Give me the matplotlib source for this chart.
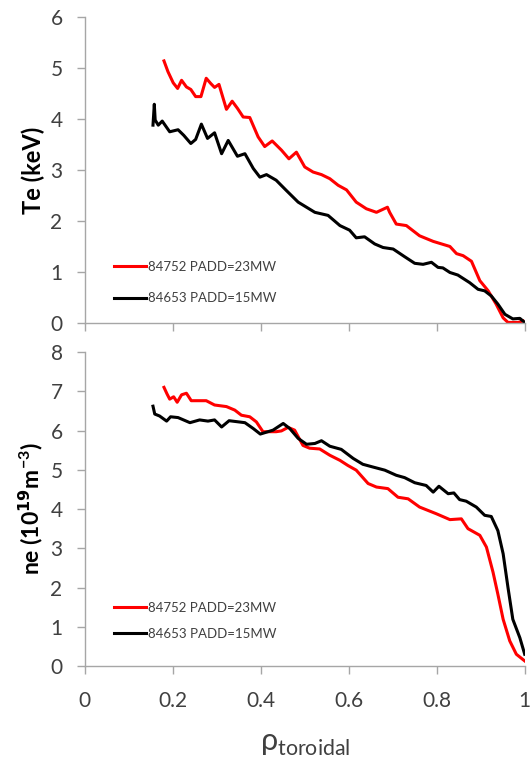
import matplotlib
matplotlib.use("Agg")
import matplotlib.pyplot as plt

plt.rcParams['font.family'] = ['Lato', 'DejaVu Sans']

# ---- Te profiles (keV) vs rho_toroidal
te_red_rho = [0.180, 0.189, 0.201, 0.211, 0.220, 0.231, 0.241, 0.252, 0.264, 0.276, 0.286,
              0.295, 0.305, 0.322, 0.335, 0.347, 0.360, 0.375, 0.394, 0.409, 0.426, 0.447,
              0.464, 0.481, 0.500, 0.519, 0.538, 0.557, 0.576, 0.595, 0.617, 0.640, 0.663,
              0.688, 0.693, 0.708, 0.731, 0.761, 0.792, 0.830, 0.845, 0.860, 0.879, 0.898,
              0.917, 0.935, 0.951, 0.962, 0.985, 0.996]
te_red = [5.14, 4.93, 4.71, 4.60, 4.76, 4.63, 4.58, 4.44, 4.44, 4.80, 4.70,
          4.62, 4.68, 4.19, 4.35, 4.21, 4.04, 4.03, 3.65, 3.46, 3.57, 3.39,
          3.22, 3.35, 3.06, 2.96, 2.91, 2.83, 2.70, 2.61, 2.37, 2.24, 2.17,
          2.27, 2.17, 1.94, 1.91, 1.71, 1.60, 1.50, 1.36, 1.32, 1.21, 0.83,
          0.63, 0.37, 0.10, 0.01, 0.01, 0.04]

te_blk_rho = [0.155, 0.158, 0.160, 0.167, 0.176, 0.193, 0.212, 0.225, 0.241, 0.252, 0.265,
              0.279, 0.295, 0.311, 0.326, 0.347, 0.364, 0.383, 0.398, 0.413, 0.435, 0.458,
              0.485, 0.523, 0.553, 0.580, 0.602, 0.617, 0.636, 0.659, 0.678, 0.701, 0.727,
              0.750, 0.769, 0.788, 0.803, 0.814, 0.830, 0.848, 0.875, 0.894, 0.909, 0.924,
              0.939, 0.955, 0.973, 0.989, 1.000]
te_blk = [3.88, 4.29, 3.98, 3.88, 3.96, 3.75, 3.79, 3.68, 3.52, 3.60, 3.90,
          3.62, 3.73, 3.32, 3.58, 3.27, 3.32, 3.03, 2.86, 2.91, 2.80, 2.60,
          2.37, 2.17, 2.11, 1.91, 1.82, 1.67, 1.69, 1.55, 1.48, 1.45, 1.30,
          1.17, 1.15, 1.19, 1.09, 1.08, 0.99, 0.94, 0.79, 0.66, 0.63, 0.53,
          0.37, 0.17, 0.08, 0.09, 0.01]

# ---- ne profiles (1e19 m^-3)
ne_red_rho = [0.180, 0.187, 0.193, 0.202, 0.210, 0.220, 0.231, 0.242, 0.276, 0.295, 0.322,
              0.341, 0.356, 0.375, 0.390, 0.405, 0.435, 0.447, 0.462, 0.477, 0.496, 0.511,
              0.534, 0.557, 0.580, 0.598, 0.617, 0.644, 0.663, 0.689, 0.712, 0.735, 0.761,
              0.799, 0.830, 0.856, 0.871, 0.898, 0.913, 0.928, 0.939, 0.951, 0.966, 0.981,
              1.000]
ne_red = [7.10, 6.93, 6.80, 6.86, 6.72, 6.91, 6.95, 6.76, 6.76, 6.65, 6.61,
          6.52, 6.39, 6.35, 6.22, 5.97, 5.97, 5.99, 6.08, 6.01, 5.62, 5.55,
          5.53, 5.37, 5.24, 5.11, 4.99, 4.65, 4.56, 4.52, 4.30, 4.26, 4.05,
          3.88, 3.73, 3.75, 3.50, 3.33, 3.03, 2.39, 1.83, 1.19, 0.64, 0.30,
          0.13]

ne_blk_rho = [0.155, 0.159, 0.170, 0.186, 0.195, 0.212, 0.239, 0.261, 0.280, 0.295, 0.311,
              0.328, 0.364, 0.383, 0.399, 0.428, 0.451, 0.466, 0.485, 0.504, 0.523, 0.538,
              0.557, 0.583, 0.610, 0.632, 0.655, 0.682, 0.708, 0.727, 0.750, 0.776, 0.792,
              0.805, 0.826, 0.839, 0.852, 0.867, 0.890, 0.909, 0.924, 0.939, 0.951, 0.962,
              0.973, 0.989, 1.000]
ne_blk = [6.62, 6.42, 6.37, 6.24, 6.35, 6.33, 6.20, 6.27, 6.24, 6.27, 6.09,
          6.25, 6.20, 6.05, 5.91, 6.01, 6.18, 6.05, 5.80, 5.65, 5.67, 5.74,
          5.60, 5.52, 5.29, 5.14, 5.07, 4.99, 4.86, 4.80, 4.67, 4.60, 4.43,
          4.58, 4.39, 4.41, 4.24, 4.20, 4.05, 3.84, 3.81, 3.45, 2.86, 2.00,
          1.19, 0.72, 0.30]

lbl_red = '84752 PADD=23MW'
lbl_blk = '84653 PADD=15MW'
xticks = [0, 0.2, 0.4, 0.6, 0.8, 1]
xticklabels = ['0', '0.2', '0.4', '0.6', '0.8', '1']

fig = plt.figure(figsize=(5.3, 7.59), dpi=100)
ax1 = fig.add_axes([0.160, 0.5745, 0.830, 0.4030])
ax2 = fig.add_axes([0.160, 0.1225, 0.830, 0.4137])

ax1.plot(te_red_rho, te_red, color='#ff0000', lw=2.2, label=lbl_red)
ax1.plot(te_blk_rho, te_blk, color='black', lw=2.2, label=lbl_blk)
ax2.plot(ne_red_rho, ne_red, color='#ff0000', lw=2.2, label=lbl_red)
ax2.plot(ne_blk_rho, ne_blk, color='black', lw=2.2, label=lbl_blk)

for ax in (ax1, ax2):
    ax.set_xlim(0, 1)
    ax.set_xticks(xticks)
    ax.set_xticklabels(xticklabels)
    for s in ('top', 'right'):
        ax.spines[s].set_visible(False)
    for s in ('left', 'bottom'):
        ax.spines[s].set_color('#a6a6a6')
        ax.spines[s].set_linewidth(1.0)
    ax.tick_params(colors='#a6a6a6', length=6, width=1.0, labelcolor='#404040')
    ax.tick_params(axis='y', labelsize=15, pad=10)
    ax.tick_params(axis='x', labelsize=15, pad=12)

ax1.set_ylim(0, 6)
ax1.set_yticks(range(0, 7))
ax1.tick_params(axis='x', labelbottom=False)
ax2.set_ylim(0, 8)
ax2.set_yticks(range(0, 9))

ax1.set_ylabel('Te (keV)', fontsize=17, fontweight='bold', labelpad=4)
ax2.set_ylabel(r'ne (10$^{\mathbf{19}}$m$^{\mathregular{-3}}$)', fontsize=16.5,
               fontweight='bold', labelpad=4)
ax2.set_xlabel('\u03c1' + r'$_{\mathregular{toroidal}}$', fontsize=22, labelpad=14,
               color='#404040')

ax1.legend(loc='lower left', bbox_to_anchor=(0.04, 0.022), frameon=False, fontsize=9.5,
           handlelength=2.4, handletextpad=0.15, labelspacing=1.46, labelcolor='#404040')
ax2.legend(loc='lower left', bbox_to_anchor=(0.04, 0.045), frameon=False, fontsize=9.5,
           handlelength=2.4, handletextpad=0.15, labelspacing=1.08, labelcolor='#404040')

fig.savefig('out.png', dpi=100)
